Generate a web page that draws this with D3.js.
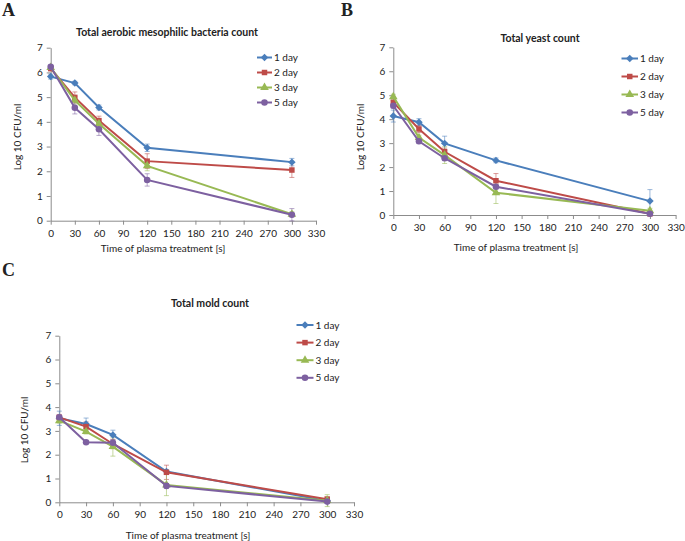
<!DOCTYPE html>
<html><head><meta charset="utf-8">
<script src="https://cdn.jsdelivr.net/npm/d3@7"></script>
<style>
body{margin:0;background:#fff;}
svg text{font-family:Lato,"Open Sans",sans-serif;fill:#222;}
</style></head>
<body><svg id="c" width="685" height="541"></svg>
<script>
const times = [0, 30, 60, 120, 300];
const seriesNames = ["1 day", "2 day", "3 day", "5 day"];
const xTicks = [0, 30, 60, 90, 120, 150, 180, 210, 240, 270, 300, 330];
const yTicks = [0, 1, 2, 3, 4, 5, 6, 7];

// Panel A: Total aerobic mesophilic bacteria count
const bacteria1 = [5.83, 5.57, 4.58, 2.95, 2.37];
const bacteria2 = [6.16, 4.99, 4.05, 2.41, 2.05];
const bacteria3 = [6.20, 4.87, 3.92, 2.22, 0.26];
const bacteria5 = [6.23, 4.57, 3.70, 1.65, 0.24];
const bacteriaErr1 = [0.10, 0.07, 0.10, 0.15, 0.15];
const bacteriaErr2 = [0.10, 0.22, 0.18, 0.30, 0.30];
const bacteriaErr3 = [0.05, 0.15, 0.10, 0.20, 0.10];
const bacteriaErr5 = [0.05, 0.25, 0.25, 0.25, 0.25];

// Panel B: Total yeast count
const yeast1 = [4.13, 3.87, 2.99, 2.28, 0.58];
const yeast2 = [4.70, 3.59, 2.64, 1.43, 0.05];
const yeast3 = [4.94, 3.23, 2.50, 0.93, 0.18];
const yeast5 = [4.56, 3.08, 2.37, 1.18, 0.05];
const yeastErr1 = [0.25, 0.15, 0.30, 0.10, 0.48];
const yeastErr2 = [0.10, 0.15, 0.15, 0.30, 0.05];
const yeastErr3 = [0.10, 0.10, 0.35, 0.45, 0.10];
const yeastErr5 = [0.10, 0.10, 0.10, 0.10, 0.05];

// Panel C: Total mold count
const mold1 = [3.53, 3.29, 2.83, 1.29, 0.06];
const mold2 = [3.57, 3.18, 2.45, 1.26, 0.13];
const mold3 = [3.43, 2.97, 2.34, 0.73, 0.07];
const mold5 = [3.57, 2.52, 2.50, 0.69, 0.03];
const moldErr1 = [0.30, 0.25, 0.20, 0.08, 0.05];
const moldErr2 = [0.10, 0.20, 0.20, 0.30, 0.10];
const moldErr3 = [0.10, 0.10, 0.40, 0.45, 0.25];
const moldErr5 = [0.05, 0.05, 0.10, 0.10, 0.05];

const colors = ["#4A7EBB", "#BE4B48", "#98B954", "#7D60A0"];
const markers = [d3.symbolSquare, d3.symbolSquare, d3.symbolTriangle, d3.symbolCircle];
const markerRot = [45, 0, 0, 0];
const markerSizes = [28, 30, 32, 34];

const svg = d3.select("#c");

function panel(cfg) {
  const g = svg.append("g");
  const x = d3.scaleLinear().domain([0, 330]).range([cfg.x0, cfg.x1]);
  const y = d3.scaleLinear().domain([0, 7]).range([cfg.y0, cfg.y1]);

  g.append("text").attr("x", cfg.lx).attr("y", cfg.ly)
    .style("font-family", "'Liberation Serif','Times New Roman',serif")
    .style("font-weight", "bold").style("font-size", "18px").text(cfg.letter);

  g.append("text").attr("x", cfg.tx).attr("y", cfg.ty).attr("text-anchor", "middle")
    .style("font-weight", "bold").style("font-size", "10.5px").text(cfg.title);

  const xa = g.append("g").attr("transform", `translate(0,${cfg.y0})`)
    .call(d3.axisBottom(x).tickValues(xTicks).tickSize(4).tickPadding(5).tickSizeOuter(0).tickFormat(d3.format("d")));
  const ya = g.append("g").attr("transform", `translate(${cfg.x0},0)`)
    .call(d3.axisLeft(y).tickValues(yTicks).tickSize(4).tickPadding(4).tickSizeOuter(0).tickFormat(d3.format("d")));
  [xa, ya].forEach(a => {
    a.select(".domain").attr("stroke", "#8c8c8c");
    a.selectAll(".tick line").attr("stroke", "#8c8c8c");
    a.selectAll(".tick text").style("font-size", "10px").style("font-family", "Lato,sans-serif").attr("fill", "#222");
  });

  g.append("text").attr("x", cfg.xtx).attr("y", cfg.xty).attr("text-anchor", "middle")
    .style("font-size", "10px").text("Time of plasma treatment [s]");
  g.append("text").attr("transform", `translate(${cfg.ytx},${cfg.yty}) rotate(-90)`)
    .attr("text-anchor", "middle").style("font-size", "10px").text(cfg.ylabel);

  const line = d3.line().x((d, i) => x(times[i])).y(d => y(d));

  cfg.series.forEach((vals, s) => {
    const err = cfg.errors[s];
    const eg = g.append("g").attr("stroke", colors[s]).attr("stroke-opacity", 0.55).attr("stroke-width", 1);
    vals.forEach((v, i) => {
      const cx = x(times[i]);
      eg.append("line").attr("x1", cx).attr("x2", cx).attr("y1", y(v - err[i])).attr("y2", y(v + err[i]));
      eg.append("line").attr("x1", cx - 2.5).attr("x2", cx + 2.5).attr("y1", y(v - err[i])).attr("y2", y(v - err[i]));
      eg.append("line").attr("x1", cx - 2.5).attr("x2", cx + 2.5).attr("y1", y(v + err[i])).attr("y2", y(v + err[i]));
    });
  });
  cfg.series.forEach((vals, s) => {
    g.append("path").datum(vals).attr("d", line).attr("fill", "none")
      .attr("stroke", colors[s]).attr("stroke-width", 2);
    g.selectAll(null).data(vals).enter().append("path")
      .attr("d", d3.symbol().type(markers[s]).size(markerSizes[s]))
      .attr("transform", (d, i) => `translate(${x(times[i])},${y(d)}) rotate(${markerRot[s]})`)
      .attr("fill", colors[s]);
  });

  seriesNames.forEach((n, s) => {
    const ly = cfg.legY + s * cfg.legDy;
    g.append("line").attr("x1", cfg.legX).attr("x2", cfg.legX + cfg.legW).attr("y1", ly).attr("y2", ly)
      .attr("stroke", colors[s]).attr("stroke-width", 2);
    g.append("path").attr("d", d3.symbol().type(markers[s]).size(markerSizes[s]))
      .attr("transform", `translate(${cfg.legX + cfg.legW / 2},${ly}) rotate(${markerRot[s]})`).attr("fill", colors[s]);
    g.append("text").attr("x", cfg.legX + cfg.legW + 2).attr("y", ly).attr("dy", "0.35em")
      .style("font-size", "10px").text(n);
  });
}

panel({
  letter: "A", lx: 2, ly: 16,
  title: "Total aerobic mesophilic bacteria count", tx: 167, ty: 36,
  x0: 50.7, x1: 316, y0: 220.7, y1: 47.7,
  xtx: 163, xty: 252, ytx: 21, yty: 137, ylabel: "Log 10 CFU/ml",
  series: [bacteria1, bacteria2, bacteria3, bacteria5],
  errors: [bacteriaErr1, bacteriaErr2, bacteriaErr3, bacteriaErr5],
  legX: 257, legW: 15, legY: 57.5, legDy: 15
});
panel({
  letter: "B", lx: 341, ly: 16,
  title: "Total yeast count", tx: 540, ty: 42,
  x0: 393.3, x1: 675.6, y0: 215, y1: 47.3,
  xtx: 516, xty: 251, ytx: 364, yty: 137, ylabel: "Log 10 CFU/ml",
  series: [yeast1, yeast2, yeast3, yeast5],
  errors: [yeastErr1, yeastErr2, yeastErr3, yeastErr5],
  legX: 621.5, legW: 16.5, legY: 58.5, legDy: 18
});
panel({
  letter: "C", lx: 2, ly: 276,
  title: "Total mold count", tx: 210, ty: 307,
  x0: 59.3, x1: 354, y0: 502.3, y1: 335.7,
  xtx: 188, xty: 539, ytx: 28, yty: 430, ylabel: "Log 10 CFU/ml",
  series: [mold1, mold2, mold3, mold5],
  errors: [moldErr1, moldErr2, moldErr3, moldErr5],
  legX: 296.5, legW: 17, legY: 325, legDy: 17.6
});
</script></body></html>
